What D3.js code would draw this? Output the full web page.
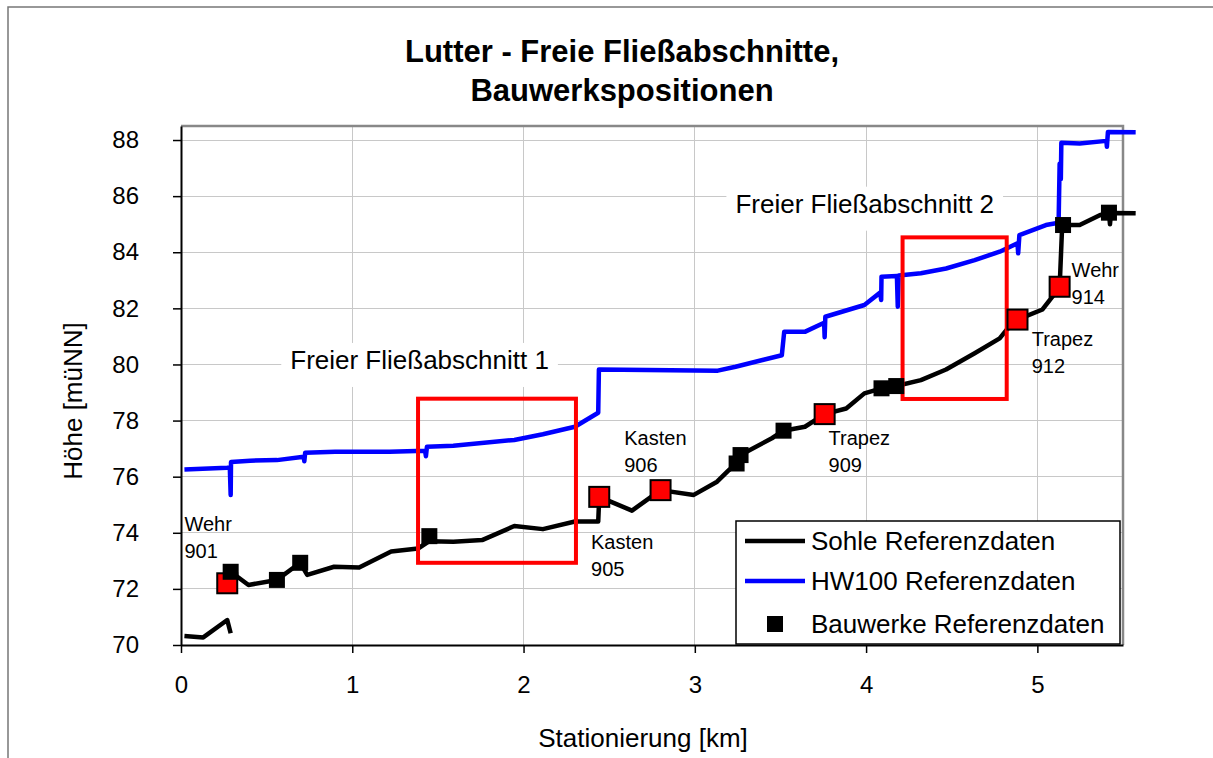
<!DOCTYPE html>
<meta charset="utf-8">
<style>
    body {
        margin: 0;
        overflow: hidden;
        background-color: #ffffff;
    }
    svg {
        display: block;
    }
    svg text {
        font-family: "Liberation Sans", Arial, sans-serif;
        fill: #000;
    }
    .grid line {
        stroke: #c8c8c8;
        stroke-width: 1px;
        shape-rendering: crispEdges;
    }
    .axis path {
        stroke: #000;
        stroke-width: 2px;
    }
    .axis line {
        stroke: #000;
        stroke-width: 1.5px;
    }
    .axis text {
        font-size: 24px;
    }
</style>
<svg width="1213" height="758"></svg>
<script src="https://cdn.jsdelivr.net/npm/d3@7"></script>
<script>
    // Sohle (bed) – null marks the gap in the data
    var sohleKm = [0.02, 0.13, 0.27, 0.29, null,
        0.29, 0.394, 0.56, 0.696, 0.737, 0.894, 1.04, 1.227, 1.384, 1.45, 1.59, 1.758, 1.946, 2.113, 2.30,
        2.436, 2.442, 2.633, 2.80, 2.994, 3.13, 3.2, 3.244, 3.267, 3.45, 3.518, 3.643, 3.758, 3.884, 3.99,
        4.09, 4.176, 4.32, 4.467, 4.634, 4.78, 4.82, 4.884, 5.03, 5.13, 5.145, 5.247, 5.364, 5.418, 5.424,
        5.43, 5.574];
    var sohleH = [70.32, 70.27, 70.89, 70.42, null,
        72.61, 72.14, 72.32, 72.93, 72.5, 72.79, 72.76, 73.33, 73.44, 73.7, 73.68, 73.74, 74.24, 74.13, 74.4,
        74.4, 75.28, 74.79, 75.52, 75.35, 75.82, 76.24, 76.47, 76.77, 77.37, 77.64, 77.78, 78.23, 78.43, 78.97,
        79.15, 79.23, 79.44, 79.82, 80.4, 80.93, 81.23, 81.6, 81.96, 82.75, 84.97, 84.97, 85.32, 85.41, 85.0,
        85.4, 85.39];

    // HW100 water level
    var hwKm = [0.02, 0.269, 0.285, 0.29, 0.292, 0.404, 0.56, 0.717, 0.72, 0.725, 0.9, 1.217, 1.425, 1.43,
        1.436, 1.59, 1.946, 2.113, 2.30, 2.436, 2.44, 3.134, 3.238, 3.508, 3.522, 3.645, 3.755, 3.758, 3.762,
        3.99, 4.082, 4.088, 4.09, 4.18, 4.185, 4.19, 4.32, 4.467, 4.634, 4.78, 4.884, 4.888, 4.895, 5.05,
        5.124, 5.13, 5.137, 5.14, 5.247, 5.403, 5.406, 5.412, 5.574];
    var hwH = [76.26, 76.32, 76.33, 75.35, 76.52, 76.57, 76.59, 76.71, 76.55, 76.85, 76.89, 76.89, 76.92, 76.73,
        77.07, 77.1, 77.31, 77.51, 77.78, 78.28, 79.82, 79.78, 79.92, 80.33, 81.17, 81.17, 81.49, 80.97, 81.7,
        82.12, 82.56, 82.3, 83.13, 83.15, 82.06, 83.17, 83.25, 83.42, 83.72, 84.02, 84.32, 83.96, 84.61, 84.97,
        85.05, 87.15, 86.6, 87.9, 87.88, 87.97, 87.76, 88.29, 88.28];

    // Bauwerke (structures)
    var bauKm = [0.29, 0.56, 0.696, 1.45, 3.244, 3.267, 3.518, 4.09, 4.176, 5.15, 5.418];
    var bauH = [72.61, 72.32, 72.93, 73.88, 76.47, 76.77, 77.64, 79.15, 79.23, 84.97, 85.41];

    // highlighted structures with labels
    var markKm = [0.27, 2.442, 2.80, 3.758, 4.884, 5.13];
    var markH = [72.2, 75.28, 75.52, 78.23, 81.6, 82.77];
    var markType = ["Wehr", "Kasten", "Kasten", "Trapez", "Trapez", "Wehr"];
    var markNr = ["901", "905", "906", "909", "912", "914"];
    var markLabelKm = [0.02, 2.394, 2.588, 3.781, 4.967, 5.2];
    var markLabelH = [74.06, 73.42, 77.13, 77.13, 80.66, 83.13];

    // free-flow sections
    var sectionName = ["Freier Fließabschnitt 1", "Freier Fließabschnitt 2"];
    var sectionKm = [[1.384, 2.306], [4.213, 4.821]];
    var sectionH = [[72.93, 78.78], [78.77, 84.53]];
    var sectionLabelKm = [1.393, 3.992];
    var sectionLabelH = [79.84, 85.41];

    var xTicks = [0, 1, 2, 3, 4, 5];
    var yTicks = [70, 72, 74, 76, 78, 80, 82, 84, 86, 88];

    var svg = d3.select("svg"),
        margin = {top: 126, left: 181},
        width = 942,
        height = 519;

    // outer chart frame: only its top and left edges lie inside the picture
    svg.append("path")
        .attr("d", "M8,760V7H1215")
        .attr("fill", "none")
        .attr("stroke", "#777")
        .attr("stroke-width", 1.5);

    svg.append("text")
        .attr("x", 622).attr("y", 62)
        .attr("text-anchor", "middle")
        .style("font-size", "31px").style("font-weight", "bold")
        .text("Lutter - Freie Fließabschnitte,");
    svg.append("text")
        .attr("x", 622).attr("y", 101)
        .attr("text-anchor", "middle")
        .style("font-size", "31px").style("font-weight", "bold")
        .text("Bauwerkspositionen");

    var x = d3.scaleLinear().domain([0, 5.5]).range([0, width]);
    var y = d3.scaleLinear().domain([70, 88.5]).range([height, 0]);

    var g = svg.append("g")
        .attr("transform", "translate(" + margin.left + "," + margin.top + ")");

    // gridlines
    g.append("g").attr("class", "grid")
        .selectAll("line").data(xTicks.slice(1)).enter().append("line")
        .attr("x1", function(d) { return x(d); }).attr("x2", function(d) { return x(d); })
        .attr("y1", 0).attr("y2", height);
    g.append("g").attr("class", "grid")
        .selectAll("line").data(yTicks.slice(1)).enter().append("line")
        .attr("x1", 0).attr("x2", width)
        .attr("y1", function(d) { return y(d); }).attr("y2", function(d) { return y(d); });

    // plot frame top / right
    g.append("path")
        .attr("d", "M0,0H" + width + "V" + height)
        .attr("fill", "none")
        .attr("stroke", "#888")
        .attr("stroke-width", 2.5);

    g.append("g")
        .attr("class", "x axis")
        .attr("transform", "translate(0," + height + ")")
        .call(d3.axisBottom(x).tickValues(xTicks).tickSizeInner(8).tickSizeOuter(0).tickPadding(23)
            .tickFormat(d3.format("d")));

    g.append("g")
        .attr("class", "y axis")
        .call(d3.axisLeft(y).tickValues(yTicks).tickSizeInner(8).tickSizeOuter(0).tickPadding(34)
            .tickFormat(d3.format("d")));

    svg.append("text")
        .attr("x", 643).attr("y", 747)
        .attr("text-anchor", "middle")
        .style("font-size", "26px")
        .text("Stationierung [km]");
    svg.append("text")
        .attr("transform", "translate(82,401) rotate(-90)")
        .attr("text-anchor", "middle")
        .style("font-size", "26px")
        .text("Höhe [müNN]");

    // section labels with white background
    sectionName.forEach(function(name, i) {
        var t = g.append("text")
            .attr("x", x(sectionLabelKm[i]))
            .attr("y", y(sectionLabelH[i]))
            .attr("text-anchor", "middle")
            .style("font-size", "26px")
            .text(name);
        var b = t.node().getBBox();
        g.insert("rect", function() { return t.node(); })
            .attr("x", b.x - 9).attr("y", b.y - 2)
            .attr("width", b.width + 18).attr("height", b.height + 14)
            .attr("fill", "#fff");
    });

    function pts(xs, ys) {
        return xs.map(function(d, i) { return [d, ys[i]]; });
    }

    var line = d3.line()
        .defined(function(d) { return d[0] !== null; })
        .x(function(d) { return x(d[0]); })
        .y(function(d) { return y(d[1]); });

    g.append("path")
        .datum(pts(hwKm, hwH))
        .attr("fill", "none")
        .attr("stroke", "#0000ff")
        .attr("stroke-width", 4.5)
        .attr("stroke-linejoin", "round")
        .attr("d", line);

    g.append("path")
        .datum(pts(sohleKm, sohleH))
        .attr("fill", "none")
        .attr("stroke", "#000")
        .attr("stroke-width", 4.5)
        .attr("stroke-linejoin", "round")
        .attr("d", line);

    // section boxes
    g.selectAll(".section")
        .data(sectionKm)
        .enter().append("rect")
        .attr("class", "section")
        .attr("x", function(d) { return x(d[0]); })
        .attr("width", function(d) { return x(d[1]) - x(d[0]); })
        .attr("y", function(d, i) { return y(sectionH[i][1]); })
        .attr("height", function(d, i) { return y(sectionH[i][0]) - y(sectionH[i][1]); })
        .attr("fill", "none")
        .attr("stroke", "#ff0000")
        .attr("stroke-width", 4);

    // highlighted structures
    var ms = 20;
    g.selectAll(".mark")
        .data(markKm)
        .enter().append("rect")
        .attr("class", "mark")
        .attr("x", function(d) { return x(d) - ms / 2; })
        .attr("y", function(d, i) { return y(markH[i]) - ms / 2; })
        .attr("width", ms).attr("height", ms)
        .attr("fill", "#ff0000")
        .attr("stroke", "#000")
        .attr("stroke-width", 2);

    var bs = 16;
    g.selectAll(".bau")
        .data(bauKm)
        .enter().append("rect")
        .attr("class", "bau")
        .attr("x", function(d) { return x(d) - bs / 2; })
        .attr("y", function(d, i) { return y(bauH[i]) - bs / 2; })
        .attr("width", bs).attr("height", bs)
        .attr("fill", "#000");

    var labels = g.selectAll(".marklabel")
        .data(markType)
        .enter().append("text")
        .attr("class", "marklabel")
        .attr("x", function(d, i) { return x(markLabelKm[i]); })
        .attr("y", function(d, i) { return y(markLabelH[i]); })
        .style("font-size", "20px");
    labels.append("tspan").text(function(d) { return d; });
    labels.append("tspan")
        .attr("x", function(d, i) { return x(markLabelKm[i]); })
        .attr("dy", 27)
        .text(function(d, i) { return markNr[i]; });

    // legend
    var legend = svg.append("g").attr("transform", "translate(736,521)");
    legend.append("rect")
        .attr("width", 384).attr("height", 123)
        .attr("fill", "#fff")
        .attr("stroke", "#000")
        .attr("stroke-width", 1.5);
    var legendItems = ["Sohle Referenzdaten", "HW100 Referenzdaten", "Bauwerke Referenzdaten"];
    var legendY = [20, 60, 103];
    legend.append("line")
        .attr("x1", 9).attr("x2", 69).attr("y1", legendY[0]).attr("y2", legendY[0])
        .attr("stroke", "#000").attr("stroke-width", 4.5);
    legend.append("line")
        .attr("x1", 9).attr("x2", 69).attr("y1", legendY[1]).attr("y2", legendY[1])
        .attr("stroke", "#0000ff").attr("stroke-width", 4.5);
    legend.append("rect")
        .attr("x", 39 - bs / 2).attr("y", legendY[2] - bs / 2)
        .attr("width", bs).attr("height", bs)
        .attr("fill", "#000");
    legend.selectAll(".ltext")
        .data(legendItems)
        .enter().append("text")
        .attr("class", "ltext")
        .attr("x", 75)
        .attr("y", function(d, i) { return legendY[i] + 9; })
        .style("font-size", "26px")
        .text(function(d) { return d; });
</script>
